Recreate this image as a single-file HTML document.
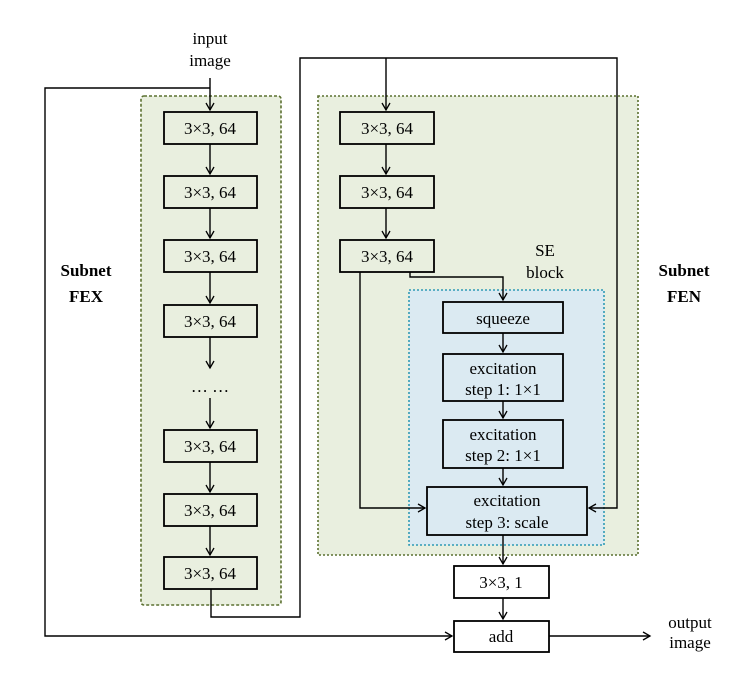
<!DOCTYPE html>
<html><head><meta charset="utf-8"><style>body{margin:0;background:#fff}</style></head><body>
<svg width="752" height="671" viewBox="0 0 752 671" xmlns="http://www.w3.org/2000/svg" font-family="Liberation Serif, serif" font-size="17">
<defs><marker id="a" markerWidth="10" markerHeight="10" refX="8" refY="5" orient="auto" markerUnits="userSpaceOnUse"><path d="M1,1 L8,5 L1,9" fill="none" stroke="#000" stroke-width="1.3"/></marker></defs>
<rect x="141" y="96" width="140" height="509" rx="3" fill="#e9efdf" stroke="#5b7030" stroke-width="1.6" stroke-dasharray="3,2"/>
<rect x="318" y="96" width="320" height="459" fill="#e9efdf" stroke="#5b7030" stroke-width="1.6" stroke-dasharray="2,2"/>
<rect x="409" y="290" width="195" height="255" fill="#dbeaf2" stroke="#2f9ab5" stroke-width="1.6" stroke-dasharray="2,2"/>
<g fill="none" stroke="#000" stroke-width="1.4">
<path d="M210,78 V110" marker-end="url(#a)"/>
<path d="M210,88 H45 V636 H452" marker-end="url(#a)"/>
<path d="M210,144 V174" marker-end="url(#a)"/><path d="M210,208 V238" marker-end="url(#a)"/><path d="M210,272 V303" marker-end="url(#a)"/>
<path d="M210,337 V368" marker-end="url(#a)"/><path d="M210,398 V428" marker-end="url(#a)"/>
<path d="M210,462 V492" marker-end="url(#a)"/><path d="M210,526 V555" marker-end="url(#a)"/>
<path d="M211,589 V617 H300 V58 H617 V508 H589" marker-end="url(#a)"/>
<path d="M386,58 V110" marker-end="url(#a)"/>
<path d="M386,144 V174" marker-end="url(#a)"/><path d="M386,208 V238" marker-end="url(#a)"/>
<path d="M360,272 V508 H425" marker-end="url(#a)"/>
<path d="M410,272 V277 H503 V300" marker-end="url(#a)"/>
<path d="M503,333 V352" marker-end="url(#a)"/><path d="M503,401 V418" marker-end="url(#a)"/><path d="M503,468 V485" marker-end="url(#a)"/>
<path d="M503,535 V564" marker-end="url(#a)"/><path d="M503,598 V619" marker-end="url(#a)"/>
<path d="M549,636 H650" marker-end="url(#a)"/>
</g>
<g stroke="#000" stroke-width="1.8">
<g fill="#e9efdf">
<rect x="164" y="112" width="93" height="32"/><rect x="164" y="176" width="93" height="32"/><rect x="164" y="240" width="93" height="32"/><rect x="164" y="305" width="93" height="32"/>
<rect x="164" y="430" width="93" height="32"/><rect x="164" y="494" width="93" height="32"/><rect x="164" y="557" width="93" height="32"/>
<rect x="340" y="112" width="94" height="32"/><rect x="340" y="176" width="94" height="32"/><rect x="340" y="240" width="94" height="32"/>
</g>
<g fill="#dbeaf2">
<rect x="443" y="302" width="120" height="31"/><rect x="443" y="354" width="120" height="47"/><rect x="443" y="420" width="120" height="48"/><rect x="427" y="487" width="160" height="48"/>
</g>
<g fill="#fff"><rect x="454" y="566" width="95" height="32"/><rect x="454" y="621" width="95" height="31"/></g>
</g>
<g text-anchor="middle" fill="#000">
<text x="210" y="44">input</text><text x="210" y="66">image</text>
<g><text x="210" y="134">3×3, 64</text><text x="210" y="198">3×3, 64</text><text x="210" y="262">3×3, 64</text><text x="210" y="327">3×3, 64</text>
<text x="210" y="392">… …</text>
<text x="210" y="452">3×3, 64</text><text x="210" y="516">3×3, 64</text><text x="210" y="579">3×3, 64</text>
<text x="387" y="134">3×3, 64</text><text x="387" y="198">3×3, 64</text><text x="387" y="262">3×3, 64</text></g>
<text x="545" y="256">SE</text><text x="545" y="278">block</text>
<text x="503" y="324">squeeze</text>
<text x="503" y="374">excitation</text><text x="503" y="395">step 1: 1×1</text>
<text x="503" y="440">excitation</text><text x="503" y="461">step 2: 1×1</text>
<text x="507" y="506">excitation</text><text x="507" y="528">step 3: scale</text>
<text x="501" y="588">3×3, 1</text><text x="501" y="642">add</text>
<text x="690" y="628">output</text><text x="690" y="648">image</text>
<g font-weight="bold"><text x="86" y="276">Subnet</text><text x="86" y="302">FEX</text><text x="684" y="276">Subnet</text><text x="684" y="302">FEN</text></g>
</g>
</svg>
</body></html>
